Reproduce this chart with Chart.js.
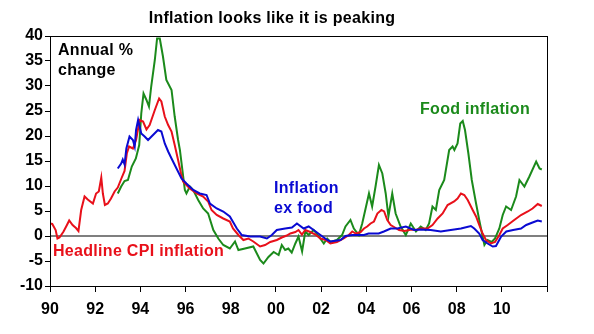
<!DOCTYPE html>
<html>
<head>
<meta charset="utf-8">
<script src="https://cdn.jsdelivr.net/npm/chart.js@4.4.0/dist/chart.umd.min.js"></script>
<style>
  html, body { margin: 0; padding: 0; background: #fff; }
  #wrap { width: 594px; height: 334px; }
</style>
</head>
<body>
<div id="wrap"><canvas id="chart" width="594" height="334"></canvas></div>
<script>
// values (year as decimal, annual % change)
const headlineDates = [1990.0, 1990.1, 1990.25, 1990.33, 1990.42, 1990.6, 1990.75, 1990.85, 1991.0, 1991.15, 1991.26, 1991.38, 1991.53, 1991.67, 1991.9, 1992.04, 1992.16, 1992.2, 1992.27, 1992.34, 1992.43, 1992.56, 1992.7, 1992.86, 1993.0, 1993.16, 1993.3, 1993.4, 1993.5, 1993.67, 1993.81, 1993.97, 1994.12, 1994.27, 1994.41, 1994.64, 1994.83, 1994.93, 1995.08, 1995.23, 1995.38, 1995.52, 1995.67, 1995.8, 1995.89, 1996.04, 1996.19, 1996.49, 1996.78, 1997.0, 1997.15, 1997.38, 1997.67, 1997.96, 1998.1, 1998.34, 1998.56, 1998.78, 1999.0, 1999.3, 1999.52, 1999.75, 2000.04, 2000.26, 2000.48, 2000.64, 2000.86, 2001.0, 2001.15, 2001.3, 2001.52, 2001.75, 2001.97, 2002.2, 2002.41, 2002.7, 2003.0, 2003.23, 2003.38, 2003.53, 2003.75, 2003.9, 2004.04, 2004.19, 2004.34, 2004.49, 2004.67, 2004.79, 2004.93, 2005.08, 2005.23, 2005.45, 2005.7, 2006.0, 2006.2, 2006.41, 2006.71, 2006.93, 2007.16, 2007.38, 2007.6, 2007.89, 2008.04, 2008.19, 2008.34, 2008.49, 2008.71, 2008.86, 2009.0, 2009.15, 2009.3, 2009.52, 2009.7, 2009.89, 2010.04, 2010.26, 2010.55, 2010.85, 2011.15, 2011.36, 2011.59, 2011.77];
const headlineValues = [2.5, 2.4, 1.2, -0.5, -0.3, 0.9, 2.2, 3.1, 2.2, 1.6, 1.0, 5.2, 7.9, 7.3, 6.5, 8.5, 8.9, 9.9, 11.7, 8.5, 6.2, 6.5, 7.5, 8.9, 9.7, 11.5, 13.0, 16.5, 17.9, 17.5, 19.2, 23.2, 22.9, 21.3, 22.2, 25.2, 27.5, 26.9, 23.9, 22.2, 20.9, 18.2, 15.2, 12.5, 10.9, 10.2, 9.5, 8.5, 7.9, 6.9, 5.2, 4.2, 3.5, 2.9, 1.5, 0.2, -0.8, -0.5, -1.1, -2.1, -1.8, -1.2, -0.8, -0.3, 0.1, 0.5, 0.8, 1.2, 0.3, 1.2, 0.8, 0.3, -0.5, -0.8, -1.5, -1.2, -0.5, 0.2, 0.9, 0.5, 0.8, 1.5, 1.9, 2.5, 2.9, 4.5, 5.2, 4.9, 3.2, 2.2, 1.8, 1.2, 1.0, 1.3, 1.2, 1.5, 1.5, 2.2, 3.5, 4.5, 6.2, 6.9, 7.5, 8.5, 8.2, 7.2, 5.2, 3.9, 2.2, 0.5, -0.8, -1.5, -1.2, 0.2, 1.5, 2.2, 3.2, 4.2, 4.9, 5.5, 6.4, 6.0];

const exFoodDates = [1993.0, 1993.15, 1993.22, 1993.3, 1993.38, 1993.52, 1993.67, 1993.75, 1993.81, 1993.9, 1994.04, 1994.19, 1994.34, 1994.56, 1994.78, 1994.93, 1995.08, 1995.23, 1995.38, 1995.6, 1995.82, 1996.04, 1996.34, 1996.63, 1996.93, 1997.08, 1997.38, 1997.67, 1997.96, 1998.27, 1998.49, 1998.86, 1999.3, 1999.6, 1999.82, 2000.04, 2000.41, 2000.71, 2000.93, 2001.23, 2001.45, 2001.67, 2001.97, 2002.27, 2002.41, 2002.86, 2003.08, 2003.38, 2003.9, 2004.1, 2004.55, 2004.78, 2005.08, 2005.38, 2005.75, 2006.12, 2006.41, 2006.85, 2007.3, 2007.74, 2008.19, 2008.63, 2008.78, 2009.0, 2009.15, 2009.37, 2009.6, 2009.74, 2009.97, 2010.2, 2010.5, 2010.85, 2011.08, 2011.36, 2011.59, 2011.77];
const exFoodValues = [13.5, 14.5, 15.3, 14.3, 17.5, 19.9, 19.2, 17.9, 21.2, 23.2, 20.5, 19.9, 19.2, 20.2, 21.2, 20.9, 18.5, 16.9, 15.5, 13.5, 11.5, 10.5, 9.2, 8.5, 8.2, 6.5, 5.5, 4.9, 3.9, 1.5, 0.2, -0.1, -0.1, -0.5, 0.2, 1.2, 1.5, 1.7, 2.5, 1.5, 1.9, 1.2, 0.2, -0.8, -1.1, -0.8, 0.0, 0.2, 0.2, 0.5, 0.5, 0.9, 1.5, 1.5, 1.9, 1.2, 1.3, 1.2, 0.9, 1.2, 1.5, 2.0, 1.5, 0.5, -0.8, -1.5, -2.1, -2.0, -0.1, 0.9, 1.2, 1.5, 2.2, 2.7, 3.1, 2.9];

const foodDates = [1993.0, 1993.15, 1993.3, 1993.45, 1993.62, 1993.8, 1993.95, 1994.04, 1994.14, 1994.27, 1994.38, 1994.48, 1994.64, 1994.74, 1994.86, 1995.0, 1995.15, 1995.38, 1995.52, 1995.67, 1995.75, 1995.97, 1996.04, 1996.19, 1996.34, 1996.56, 1996.78, 1997.0, 1997.23, 1997.45, 1997.67, 1997.96, 1998.19, 1998.34, 1998.63, 1999.0, 1999.3, 1999.45, 1999.67, 1999.9, 2000.12, 2000.26, 2000.41, 2000.55, 2000.7, 2000.86, 2001.0, 2001.16, 2001.3, 2001.45, 2001.67, 2001.9, 2002.12, 2002.27, 2002.41, 2002.7, 2002.93, 2003.08, 2003.3, 2003.45, 2003.67, 2003.82, 2003.97, 2004.12, 2004.26, 2004.41, 2004.56, 2004.71, 2004.86, 2004.98, 2005.15, 2005.3, 2005.52, 2005.75, 2005.97, 2006.2, 2006.41, 2006.63, 2006.78, 2006.93, 2007.08, 2007.23, 2007.45, 2007.67, 2007.82, 2007.9, 2008.04, 2008.16, 2008.27, 2008.37, 2008.52, 2008.67, 2008.86, 2009.0, 2009.15, 2009.23, 2009.37, 2009.55, 2009.7, 2009.89, 2010.04, 2010.19, 2010.41, 2010.63, 2010.78, 2011.0, 2011.22, 2011.52, 2011.67, 2011.77];
const foodValues = [8.5, 9.9, 11.0, 11.2, 13.9, 15.5, 18.2, 24.5, 28.5, 27.2, 25.9, 29.9, 35.2, 39.5, 39.5, 35.9, 31.2, 29.2, 23.9, 19.2, 17.2, 9.2, 8.5, 9.9, 9.2, 7.2, 5.5, 4.5, 1.2, -0.5, -1.8, -2.5, -1.1, -2.8, -2.5, -2.1, -4.8, -5.5, -4.2, -3.2, -3.8, -1.8, -2.8, -2.5, -3.3, -1.5, -0.1, -3.1, 0.9, 0.2, 1.2, -0.1, -1.5, -0.5, -1.2, -0.8, 0.2, 1.9, 3.2, 1.5, 0.2, 2.5, 5.5, 8.5, 5.9, 9.9, 14.2, 12.5, 8.5, 3.9, 8.5, 4.5, 1.9, 0.2, 2.5, 0.9, 1.9, 1.2, 2.5, 5.9, 5.2, 9.2, 11.2, 17.2, 17.9, 17.2, 18.5, 22.5, 23.0, 21.2, 16.5, 11.2, 6.5, 3.2, -0.1, -1.8, -0.8, -1.2, -0.5, 1.5, 4.2, 5.9, 5.2, 7.9, 11.2, 9.9, 11.9, 14.9, 13.5, 13.3];

const yTicks = [-10, -5, 0, 5, 10, 15, 20, 25, 30, 35, 40];
const xTickYears = [1990, 1992, 1994, 1996, 1998, 2000, 2002, 2004, 2006, 2008, 2010, 2012];

const RED = '#e8101a';
const BLUE = '#0a0ad2';
const GREEN = '#1b8a1b';
const FONT = "'Liberation Sans', Arial, sans-serif";

function toPoints(dates, values) {
  return dates.map((d, i) => ({ x: d, y: values[i] }));
}

// frame, zero line and text labels
const extras = {
  id: 'extras',
  beforeDatasetsDraw(chart) {
    const ctx = chart.ctx;
    const a = chart.chartArea;
    const y0 = chart.scales.y.getPixelForValue(0);
    ctx.save();
    ctx.strokeStyle = '#7f7f7f';
    ctx.lineWidth = 2;
    ctx.beginPath();
    ctx.moveTo(a.left, y0);
    ctx.lineTo(a.right, y0);
    ctx.stroke();
    ctx.restore();
  },
  afterDatasetsDraw(chart) {
    const ctx = chart.ctx;
    const a = chart.chartArea;
    ctx.save();
    ctx.strokeStyle = '#000';
    ctx.lineWidth = 1;
    ctx.strokeRect(a.left + 0.5, a.top + 0.5, a.right - a.left, a.bottom - a.top);

    ctx.font = 'bold 16px ' + FONT;
    ctx.letterSpacing = '0.3px';
    ctx.textBaseline = 'middle';
    ctx.textAlign = 'center';
    ctx.fillStyle = '#000';
    ctx.fillText('Inflation looks like it is peaking', 272, 19);

    ctx.textAlign = 'left';
    ctx.fillText('Annual %', 58, 51);
    ctx.fillText('change', 58, 71);

    ctx.fillStyle = GREEN;
    ctx.fillText('Food inflation', 420, 110);
    ctx.fillStyle = BLUE;
    ctx.fillText('Inflation', 274, 189);
    ctx.fillText('ex food', 274, 209);
    ctx.fillStyle = RED;
    ctx.fillText('Headline CPI inflation', 53, 252);
    ctx.restore();
  }
};

const chartCanvas = document.getElementById('chart');
const chart = new Chart(chartCanvas.getContext('2d'), {
  type: 'line',
  data: {
    datasets: [
      {
        label: 'Inflation ex food',
        data: toPoints(exFoodDates, exFoodValues),
        borderColor: BLUE,
        borderWidth: 2,
        order: 1
      },
      {
        label: 'Headline CPI inflation',
        data: toPoints(headlineDates, headlineValues),
        borderColor: RED,
        borderWidth: 2,
        order: 2
      },
      {
        label: 'Food inflation',
        data: toPoints(foodDates, foodValues),
        borderColor: GREEN,
        borderWidth: 2,
        order: 3
      }
    ]
  },
  options: {
    responsive: false,
    animation: false,
    events: [],
    layout: { padding: { top: 36, right: 47, left: 0, bottom: 0 } },
    elements: { point: { radius: 0 }, line: { tension: 0, fill: false } },
    plugins: { legend: { display: false }, title: { display: false }, tooltip: { enabled: false } },
    scales: {
      x: {
        type: 'linear',
        min: 1990,
        max: 2012,
        afterFit(scale) { scale.height = 48; },
        afterBuildTicks(scale) { scale.ticks = xTickYears.map(v => ({ value: v })); },
        border: { display: false },
        grid: { drawOnChartArea: false, color: '#000', tickLength: 6 },
        ticks: {
          color: '#000',
          font: { family: FONT, size: 16, weight: 'bold' },
          padding: 8,
          maxRotation: 0,
          autoSkip: false,
          callback: (v) => v >= 2012 ? '' : String(v % 100).padStart(2, '0')
        }
      },
      y: {
        min: -10,
        max: 40,
        afterFit(scale) { scale.width = 50; },
        afterBuildTicks(scale) { scale.ticks = yTicks.map(v => ({ value: v })); },
        border: { display: false },
        grid: { drawOnChartArea: false, color: '#000', tickLength: 5 },
        ticks: {
          color: '#000',
          font: { family: FONT, size: 16, weight: 'bold' },
          padding: 2
        }
      }
    }
  },
  plugins: [extras]
});
</script>
</body>
</html>
